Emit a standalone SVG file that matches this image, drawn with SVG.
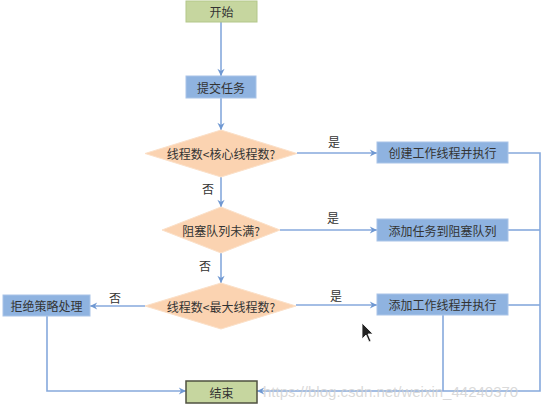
<svg xmlns="http://www.w3.org/2000/svg" width="543" height="406" viewBox="0 0 543 406">
<defs>
<marker id="arr" viewBox="0 0 10 10" refX="9" refY="5" markerWidth="9" markerHeight="9" markerUnits="userSpaceOnUse" orient="auto">
<path d="M1,1 L9,5 L1,9 L3.5,5 Z" fill="#6f98d2"/>
</marker>
<style>
.t{font-family:"Noto Sans CJK SC","Noto Sans",sans-serif;font-size:12px;fill:#333;text-anchor:middle;dominant-baseline:central}
.g{fill:#c6d69f;stroke:#b3c78a;stroke-width:1}
.ge{fill:#c6d69f;stroke:#4f5140;stroke-width:1.5}
.b{fill:#8fb3e0;stroke:#a9c4e8;stroke-width:1}
.d{fill:#fbd3b1;stroke:#fbe0c8;stroke-width:1}
.c{fill:none;stroke:#86a9dc;stroke-width:1.6}
.ca{fill:none;stroke:#86a9dc;stroke-width:1.6;marker-end:url(#arr)}
.l{font-family:"Noto Sans CJK SC","Noto Sans",sans-serif;font-size:12px;fill:#333;text-anchor:middle;dominant-baseline:central}
</style>
</defs>
<rect width="543" height="406" fill="#fff"/>
<g id="connectors">
<path class="ca" d="M221,22 V76"/>
<path class="ca" d="M221,98 V130"/>
<path class="ca" d="M297,153 H377"/>
<path class="ca" d="M221,177 V207"/>
<path class="ca" d="M280,230 H377"/>
<path class="ca" d="M221,253 V283"/>
<path class="ca" d="M296,305 H377"/>
<path class="ca" d="M145,306 H90"/>
<path class="ca" d="M508,153 H540 V391 H257"/>
<path class="c" d="M508,230 H540"/>
<path class="c" d="M508,305 H540"/>
<path class="c" d="M443,315 V391"/>
<path class="ca" d="M47,316 V391 H186"/>
<text class="l" x="334" y="141">是</text>
<text class="l" x="208" y="188">否</text>
<text class="l" x="333" y="217">是</text>
<text class="l" x="205" y="265">否</text>
<text class="l" x="336" y="295">是</text>
<text class="l" x="115" y="297">否</text>
</g>
<g id="start"><rect class="g" x="186" y="1" width="71" height="21"/><text class="t" x="221.5" y="11.5">开始</text></g>
<g id="submit"><rect class="b" x="186" y="76" width="70" height="22"/><text class="t" x="221" y="87">提交任务</text></g>
<g id="d1"><polygon class="d" points="221,130 297,153.5 221,177 145,153.5"/><text class="t" x="221" y="153.5">线程数&lt;核心线程数?</text></g>
<g id="create"><rect class="b" x="377" y="142" width="131" height="21"/><text class="t" x="442.5" y="152.5">创建工作线程并执行</text></g>
<g id="d2"><polygon class="d" points="221,207 280,230 221,253 162,230"/><text class="t" x="221" y="230">阻塞队列未满?</text></g>
<g id="queue"><rect class="b" x="377" y="219" width="131" height="22"/><text class="t" x="442.5" y="230">添加任务到阻塞队列</text></g>
<g id="d3"><polygon class="d" points="221,283 296,306 221,329 145,306"/><text class="t" x="221" y="306">线程数&lt;最大线程数?</text></g>
<g id="add"><rect class="b" x="377" y="294" width="131" height="21"/><text class="t" x="442.5" y="304.5">添加工作线程并执行</text></g>
<g id="reject"><rect class="b" x="3" y="295" width="87" height="21"/><text class="t" x="46.5" y="305.5">拒绝策略处理</text></g>
<g id="end"><rect class="ge" x="186" y="381" width="71" height="22"/><text class="t" x="221.5" y="392">结束</text></g>
<text x="263" y="397" font-family="Liberation Sans, Arial, sans-serif" font-size="15" fill="#d0d0d0" fill-opacity="0.8">https://blog.csdn.net/weixin_44240370</text>
<path d="M362,323 L362,339 L366,335 L369,342 L371,341 L368,334 L373,334 Z" fill="#222" stroke="#fff" stroke-width="0.8"/>
</svg>
